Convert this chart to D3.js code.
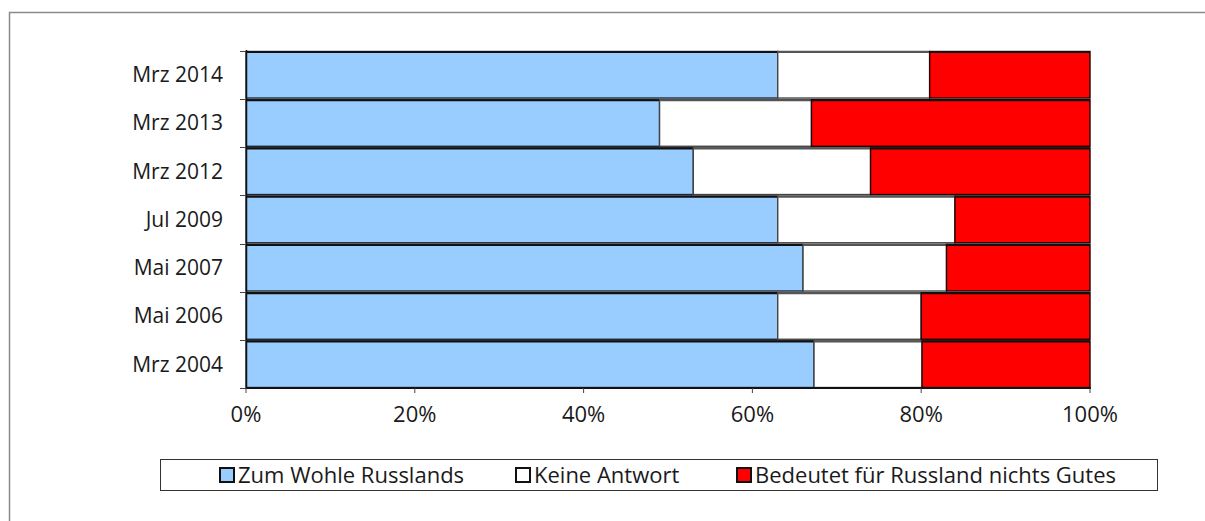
<!DOCTYPE html>
<html>
<head>
<meta charset="utf-8">
<script src="https://cdn.jsdelivr.net/npm/d3@7"></script>
<style>
  html, body { margin: 0; padding: 0; background: #fff; overflow: hidden; }
  svg { display: block; }
  text { font-family: "Open Sans", "Noto Sans", sans-serif; fill: #1a1a1a; }
</style>
</head>
<body>
<svg id="chart" width="1205" height="521"></svg>
<script>
const categories = ["Mrz 2014", "Mrz 2013", "Mrz 2012", "Jul 2009", "Mai 2007", "Mai 2006", "Mrz 2004"];
const seriesNames = ["Zum Wohle Russlands", "Keine Antwort", "Bedeutet für Russland nichts Gutes"];
const wohle = [63, 49, 53, 63, 66, 63, 67.3];
const keine = [18, 18, 21, 21, 17, 17, 12.8];
const nichts = [19, 33, 26, 16, 17, 20, 19.9];
const xTicks = [0, 20, 40, 60, 80, 100];
const colors = ["#99CCFF", "#FFFFFF", "#FF0000"];
const strokes = ["#1b2633", "#444", "#220000"];

const svg = d3.select("#chart");

// outer frame
svg.append("path")
  .attr("d", "M9.5,521 V12.5 H1205")
  .attr("fill", "none").attr("stroke", "#8a8a8a").attr("stroke-width", 1.5);

const x = d3.scaleLinear().domain([0, 100]).range([246, 1090]);
const y = d3.scaleBand().domain(categories).range([51, 388]).paddingInner(0.035).paddingOuter(0.01);

const rows = categories.map((c, i) => ({ cat: c, vals: [wohle[i], keine[i], nichts[i]] }));
const stack = d3.stack().keys([0, 1, 2]).value((d, k) => d.vals[k]);
const layers = stack(rows);

const g = svg.append("g");
layers.forEach((layer, k) => {
  g.selectAll(null).data(layer).enter().append("rect")
    .attr("x", d => x(d[0]))
    .attr("y", d => y(d.data.cat))
    .attr("width", d => x(d[1]) - x(d[0]))
    .attr("height", y.bandwidth())
    .attr("fill", colors[k])
    .attr("stroke", strokes[k])
    .attr("stroke-width", 1.4);
  g.selectAll(null).data(layer).enter().append("line")
    .attr("x1", d => x(d[0]))
    .attr("x2", d => x(d[1]))
    .attr("y1", d => y(d.data.cat) + 0.5)
    .attr("y2", d => y(d.data.cat) + 0.5)
    .attr("stroke", k === 1 ? "#555" : "#111")
    .attr("stroke-width", 2.2);
});

// y axis line and boundary ticks
const step = y.step();
const boundaries = categories.map(c => y(c) - (step - y.bandwidth()) / 2).concat([388]);
svg.append("line").attr("x1", 246.5).attr("x2", 246.5).attr("y1", 50).attr("y2", 388)
  .attr("stroke", "#111").attr("stroke-width", 1.5);
svg.selectAll(".ytick").data(boundaries).enter().append("line")
  .attr("x1", 240).attr("x2", 246)
  .attr("y1", d => Math.round(d) + 0.5).attr("y2", d => Math.round(d) + 0.5)
  .attr("stroke", "#444").attr("stroke-width", 1);

svg.selectAll(".ylab").data(categories).enter().append("text")
  .attr("x", 223)
  .attr("y", d => y(d) + y.bandwidth() / 2)
  .attr("dy", "0.35em")
  .attr("text-anchor", "end")
  .attr("font-size", 21)
  .text(d => d);

// x axis
svg.append("line").attr("x1", 246).attr("x2", 1091).attr("y1", 388).attr("y2", 388)
  .attr("stroke", "#111").attr("stroke-width", 2);
svg.selectAll(".xtick").data(xTicks).enter().append("line")
  .attr("x1", d => x(d)).attr("x2", d => x(d))
  .attr("y1", 388).attr("y2", 393)
  .attr("stroke", "#444").attr("stroke-width", 1);
svg.selectAll(".xlab").data(xTicks).enter().append("text")
  .attr("x", d => x(d))
  .attr("y", 414)
  .attr("dy", "0.35em")
  .attr("text-anchor", "middle")
  .attr("font-size", 22)
  .text(d => d + "%");

// legend
svg.append("rect").attr("x", 160.5).attr("y", 459.5).attr("width", 997).attr("height", 31)
  .attr("fill", "#fff").attr("stroke", "#333").attr("stroke-width", 1);
const legendX = [220, 516, 737];
seriesNames.forEach((name, k) => {
  svg.append("rect").attr("x", legendX[k]).attr("y", 468).attr("width", 14).attr("height", 14)
    .attr("fill", colors[k]).attr("stroke", "#111").attr("stroke-width", 2);
  svg.append("text").attr("x", legendX[k] + 18).attr("y", 475).attr("dy", "0.35em")
    .attr("font-size", 22).text(name);
});
</script>
</body>
</html>
